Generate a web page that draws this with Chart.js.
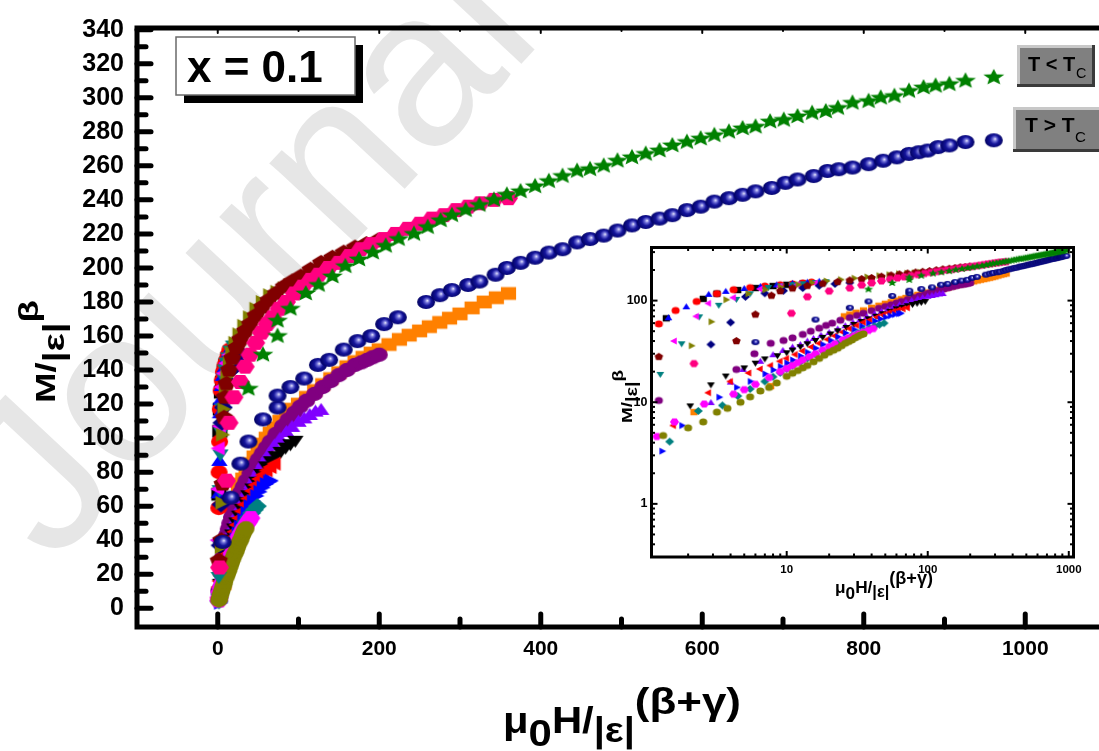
<!DOCTYPE html>
<html>
<head>
<meta charset="utf-8">
<script src="https://cdn.jsdelivr.net/npm/chart.js@4.4.1/dist/chart.umd.min.js"></script>
<style>
  html, body { margin: 0; padding: 0; background: #fff; overflow: hidden; width: 1099px; height: 751px; }
  #main { position: absolute; left: 0; top: 0; }
  #inset { position: absolute; left: 595px; top: 236px; }
</style>
</head>
<body>
<canvas id="main" width="1112" height="751"></canvas>
<canvas id="inset" width="500" height="375"></canvas>
<script>
const FONT = "'Liberation Sans', Arial, sans-serif";

// Ejes
const xTicks = [0, 200, 400, 600, 800, 1000];
const yTicks = [0, 20, 40, 60, 80, 100, 120, 140, 160, 180, 200, 220, 240, 260, 280, 300, 320, 340];
const insetXTicks = [10, 100, 1000];
const insetYTicks = [1, 10, 100];

// T < Tc  ([H/|e|^(b+g), M/|e|^b])
const belowGreen = [[38,129],[56,149],[74,160],[74,169],[90,176],[109,185],[125,190],[142,195],[158,201],[175,205],[192,209],[208,213],[224,217],[243,220],[260,224],[276,228],[290,231],[307,234],[324,237],[342,240],[358,243],[375,245],[393,248],[410,251],[427,254],[445,257],[461,258],[478,260],[495,263],[513,265],[530,267],[547,269],[563,272],[581,274],[598,276],[615,278],[633,280],[650,282],[666,283],[684,286],[701,287],[718,289],[736,291],[753,292],[768,294],[786,297],[806,298],[821,300],[838,301],[856,304],[874,306],[889,307],[906,308],[926,310],[961,312]];
const belowPink = [[2.2,24],[10.8,75],[14,109],[20,124],[28,133],[34,142],[40,149],[47,156],[54,162],[61,167],[68,171],[76,176],[85,180],[95,185],[105,189],[115,193],[125,196],[137,200],[150,203],[163,207],[177,211],[190,214],[205,217],[220,220],[235,223],[250,226],[265,229],[280,231],[295,234],[310,236],[325,238],[342,240],[360,241]];
const belowWine = [[1.24,28],[4.4,40],[6,73],[7.8,112],[9,124],[11,132],[14,140],[18,147],[23,153],[28,158],[34,163],[40,167],[47,172],[55,177],[63,181],[72,185],[82,189],[92,192],[103,195],[115,199],[128,203],[142,206],[156,209],[170,212],[184,214],[198,216]];
const belowOlive = [[2.1,36],[2.9,62],[3.7,102],[5.3,117],[7,128],[9,136],[12,144],[15,150],[19,156],[24,161],[30,166],[37,171],[45,176],[53,180],[62,184],[71,186],[80,188],[88,190]];
const belowNavy = [[2.9,37],[4,61],[5.1,109],[7,118],[9.5,125],[13,133],[17,140],[22,146],[28,150]];
const belowMagenta = [[1.6,40],[2.3,70],[2.8,94],[4.2,107],[6.5,130],[9,138],[12,144],[16,149]];
const belowTeal = [[1.27,19],[1.8,38],[2.4,70],[3.3,91],[4.4,104],[5.5,118],[7.4,136],[9,141],[11,145],[13,148],[16,152],[19,155]];
const belowBlue = [[1.45,67],[1.94,86],[2.8,114],[3.7,122],[5,130],[6.5,136],[8.5,141],[11,146],[14,150],[17,153]];
const belowRed = [[1.24,59],[1.63,80],[2.3,98],[3.2,117],[4.2,128],[5.5,134],[7,139],[9,143],[11,146],[13,149],[15,152]];
const belowBlack = [[1.4,67],[2.56,104],[3.2,117],[4.5,127],[6,133],[8,139],[10,143],[13,147]];

// T > Tc
const aboveNavy = [[6,39],[16,65],[28,85],[38,98],[56,111],[74,118],[74,125],[90,130],[107,135],[124,143],[138,146],[156,152],[173,157],[190,160],[206,167],[223,171],[258,180],[275,184],[290,187],[310,190],[324,192],[344,196],[358,200],[375,203],[393,206],[410,209],[427,211],[445,215],[461,217],[478,219],[495,222],[513,225],[530,227],[547,229],[563,231],[581,234],[598,236],[615,239],[633,241],[650,243],[666,245],[686,247],[703,250],[718,252],[738,254],[755,257],[769,258],[786,259],[806,261],[824,263],[841,265],[856,267],[868,268],[879,269],[892,271],[906,272],[926,274],[961,275]];
const aboveOrange = [[2.2,8],[7.7,14.4],[25.6,70],[28,73],[31,76],[35,80],[40,85],[45,89],[50,93],[55,96.5],[60,100],[65,103],[70,106],[77,110],[85,114],[92,117],[100,120],[110,124],[120,128],[130,131.5],[140,135],[150,138.5],[160,142],[170,145],[180,147.5],[190,150],[200,152],[212,155],[225,158],[237,160.5],[250,163],[262,165.5],[275,168],[287,170.5],[300,173],[315,176.5],[330,180],[345,182.5],[360,185]];
const abovePurple = [[1.24,10.4],[4.4,21],[5.9,30],[7.7,38],[9.5,40.5],[11,43],[13,46.5],[14.8,50],[17,53.5],[19,57],[21,60],[24,64],[28,68],[31.5,71.5],[35,75],[40,79.5],[45,84],[50,87.5],[55,91],[60,94.5],[65,98],[72,102.5],[80,107],[87,111],[95,115],[102,118.5],[110,122],[120,126],[130,130],[140,133.5],[150,137],[160,140],[170,143],[178,144.5],[185,146],[192,147.5],[200,149]];
const aboveViolet = [[2.9,9.8],[4,15.6],[4.9,20.8],[6.5,25],[8,29],[9.4,32],[11,34.5],[12.5,36.5],[14,39.5],[15.5,42],[17.5,45],[20,48],[23,52],[26,56],[29.5,60],[33,64],[37,68.5],[42,73],[47,77.5],[52,81.5],[57,85.5],[63,90],[70,95],[77,99],[85,103],[92,106],[100,109],[107,111],[114,113],[121,115],[128,116]];
const aboveBlack = [[2.07,9.3],[2.9,15],[3.7,18.3],[5,22],[6,24.5],[7,27],[8.6,29],[10,31],[11,33],[12.5,35.5],[14,38],[16,41],[18,44],[20.5,47.5],[23,51],[26.5,55],[30,59],[34,63],[38,67],[43,71],[48,75],[54,79.5],[60,84],[66,87],[72,90],[78,92.5],[84,95],[90,97],[96,99]];
const aboveRed = [[1.58,5.9],[2.8,12.4],[4,16],[5.4,19.4],[6.5,21.2],[7.7,23],[9,25.3],[10,27],[11.5,29.5],[13,32],[15,35],[17,38],[19.5,41.5],[22,45],[25,49],[28,53],[31.5,57],[35,61],[39,64.5],[44,69],[48.5,72.5],[53,76],[57.5,78.5],[62,81],[67,83],[72,85]];
const aboveBlue = [[1.3,3.3],[1.8,5.9],[3.3,11.2],[4.4,14],[5.5,16],[7,19],[8,20.8],[9,22.5],[10,24.3],[11,26],[12.5,28.5],[14,31],[16,34],[18,37],[20.5,40.5],[23,44],[26,48],[30,52],[34,56],[38,60],[42,63],[46,66],[50,68.5],[54,71],[58,73],[62,74.5],[64,75]];
const aboveTeal = [[1.48,4.1],[2.36,8.2],[3.5,9.3],[4.5,11.5],[5.5,13.5],[7,16],[8,17.8],[9,19.5],[10,21.3],[11,23],[12.5,25],[14,27],[16,29.5],[18,32],[20.5,35],[23,38],[26,41.5],[29,45],[32,48],[35,51],[38.5,53.5],[42,56],[45.5,58],[49,60]];
const aboveMagenta = [[1.2,4.6],[1.6,6.4],[2.6,9.6],[4.2,12],[5,13.3],[6,15],[7.5,17.5],[9,20],[10,21.5],[11,23],[12,24.5],[13,26],[14.5,28],[16,30],[18,32.5],[20,35],[22,37.5],[25,41],[27.5,43],[30,45],[32.5,47],[35,49],[38,51],[41,53]];
const aboveOlive = [[1.33,4.7],[2,5.6],[2.56,6.4],[3.2,8],[3.8,8.7],[4.7,10],[5.5,11.3],[6.5,12.9],[7.5,14],[8.5,15.5],[10,18],[11,19.3],[12,20.5],[13,21.8],[14,23],[15.5,25],[17,27],[18.5,29],[20,31],[21.5,32.5],[23,34],[24.5,36],[26,38],[27.5,39.5],[29,41],[30.5,43],[32,44.5],[33.5,46],[35,47]];

// series: datos, forma, color (el primero se dibuja encima)
const series = [
  [belowGreen, 'star', '#008000'],
  [aboveNavy, 'sphere', '#000080'],
  [belowPink, 'hexagon', '#ff0080'],
  [belowWine, 'pentagon', '#800000'],
  [belowOlive, 'right', '#808000'],
  [belowNavy, 'diamond', '#000080'],
  [belowMagenta, 'left', '#ff00ff'],
  [belowTeal, 'down', '#008080'],
  [belowBlue, 'up', '#0000ff'],
  [belowRed, 'circle', '#ff0000'],
  [belowBlack, 'square', '#000000'],
  [aboveOlive, 'circle', '#808000'],
  [aboveMagenta, 'hexagon', '#ff00ff'],
  [aboveTeal, 'diamond', '#008080'],
  [aboveBlue, 'right', '#0000ff'],
  [aboveRed, 'left', '#ff0000'],
  [aboveBlack, 'down', '#000000'],
  [aboveViolet, 'up', '#8000ff'],
  [abovePurple, 'circle', '#800080'],
  [aboveOrange, 'square', '#ff8000']
];

// Marcadores dibujados en un canvas
function marker(shape, color, w, h) {
  const c = document.createElement('canvas');
  c.width = Math.ceil(w) + 2;
  c.height = Math.ceil(h) + 2;
  const g = c.getContext('2d');
  const cx = c.width / 2, cy = c.height / 2, rx = w / 2, ry = h / 2;
  const poly = (n, rot) => {
    for (let i = 0; i < n; i++) {
      const a = rot + i * 2 * Math.PI / n;
      g.lineTo(cx + rx * Math.cos(a), cy + ry * Math.sin(a));
    }
    g.closePath();
  };
  g.fillStyle = color;
  g.beginPath();
  if (shape === 'circle') g.ellipse(cx, cy, rx * 0.9, ry * 0.9, 0, 0, 2 * Math.PI);
  else if (shape === 'square') g.rect(cx - rx * 0.8, cy - ry * 0.8, rx * 1.6, ry * 1.6);
  else if (shape === 'up') poly(3, -Math.PI / 2);
  else if (shape === 'down') poly(3, Math.PI / 2);
  else if (shape === 'left') poly(3, Math.PI);
  else if (shape === 'right') poly(3, 0);
  else if (shape === 'diamond') poly(4, -Math.PI / 2);
  else if (shape === 'pentagon') poly(5, -Math.PI / 2);
  else if (shape === 'hexagon') poly(6, 0);
  else if (shape === 'star') {
    for (let i = 0; i < 10; i++) {
      const a = -Math.PI / 2 + i * Math.PI / 5;
      const r = i % 2 ? 0.45 : 1;
      g.lineTo(cx + rx * r * Math.cos(a), cy + ry * r * Math.sin(a));
    }
    g.closePath();
  } else if (shape === 'sphere') {
    const gr = g.createRadialGradient(cx + rx * 0.15, cy - ry * 0.2, 0, cx, cy, rx);
    gr.addColorStop(0, '#eeeeff');
    gr.addColorStop(0.22, '#7070d8');
    gr.addColorStop(0.5, '#14149a');
    gr.addColorStop(1, '#00005e');
    g.fillStyle = gr;
    g.ellipse(cx, cy, rx, ry, 0, 0, 2 * Math.PI);
  }
  g.fill();
  return c;
}

function buildDatasets(big) {
  return series.map(([pts, shape, color]) => {
    let w = big ? 19 : 9, h = big ? 16 : 8;
    if (shape === 'star') { w = big ? 22 : 10; h = big ? 17 : 8; }
    if (shape === 'sphere') { w = big ? 18 : 8; h = big ? 14 : 6; }
    return {
      data: pts.map(([x, y]) => ({ x, y })),
      pointStyle: marker(shape, color, w, h),
      pointRadius: 5,
      showLine: false
    };
  });
}

// Texto con sub/superíndices, ajustado a un ancho
function drawRich(ctx, parts, base, width) {
  let total = 0;
  parts.forEach(p => {
    ctx.font = `bold ${base * p.s}px ${FONT}`;
    p.m = ctx.measureText(p.t).width;
    total += p.m;
  });
  ctx.save();
  ctx.scale(width / total, 1);
  ctx.fillStyle = '#000';
  ctx.textBaseline = 'alphabetic';
  ctx.textAlign = 'left';
  let x = 0;
  parts.forEach(p => {
    ctx.font = `bold ${base * p.s}px ${FONT}`;
    ctx.fillText(p.t, x, p.dy * base);
    x += p.m;
  });
  ctx.restore();
}

const yTitle = [{ t: 'M/', s: 1, dy: 0 }, { t: '|ε|', s: 1.05, dy: 0.32 }, { t: 'β', s: 1, dy: -0.6 }];
const xTitle = [{ t: 'μ', s: 1, dy: 0 }, { t: '0', s: 1, dy: 0.36 }, { t: 'H/', s: 1, dy: 0 }, { t: '|ε|', s: 0.95, dy: 0.26 }, { t: '(β+γ)', s: 1.05, dy: -0.53 }];

function legendButton(ctx, x, y, w, h, txt, size, tx, ty, cx, cy) {
  ctx.fillStyle = '#808080';
  ctx.fillRect(x, y, w, h);
  ctx.fillStyle = '#c8c8c8';
  ctx.fillRect(x, y, w, 3);
  ctx.fillRect(x, y, 3, h);
  ctx.fillStyle = '#3a3a3a';
  ctx.fillRect(x, y + h - 3, w, 3);
  ctx.fillRect(x + w - 3, y, 3, h);
  ctx.fillStyle = '#000';
  ctx.textAlign = 'left';
  ctx.textBaseline = 'alphabetic';
  ctx.font = `bold ${size}px ${FONT}`;
  ctx.fillText(txt, tx, ty);
  ctx.font = `${size * 0.72}px ${FONT}`;
  ctx.fillText('C', cx, cy);
}

const mainDecor = {
  id: 'mainDecor',
  beforeDraw(chart) {
    const ctx = chart.ctx;
    ctx.save();
    ctx.fillStyle = '#fff';
    ctx.fillRect(0, 0, chart.width, chart.height);
    // marca de agua
    ctx.translate(8, 525);
    ctx.rotate(-47 * Math.PI / 180);
    ctx.font = `220px ${FONT}`;
    ctx.fillStyle = '#e6e6e6';
    ctx.textBaseline = 'middle';
    ctx.fillText('Journal Pre-proof', 0, 0);
    ctx.restore();
  },
  afterDraw(chart) {
    const ctx = chart.ctx, a = chart.chartArea;
    const xs = chart.scales.x, ys = chart.scales.y;
    ctx.save();
    ctx.strokeStyle = '#000';
    ctx.lineWidth = 5;
    ctx.lineJoin = 'miter';
    ctx.beginPath();
    ctx.moveTo(a.right, a.top);
    ctx.lineTo(a.left, a.top);
    ctx.lineTo(a.left, a.bottom);
    ctx.lineTo(a.right, a.bottom);
    ctx.stroke();
    ctx.lineCap = 'round';
    for (let v = 0; v <= 340; v += 10) {
      const py = ys.getPixelForValue(v);
      ctx.beginPath();
      ctx.moveTo(a.left, py);
      ctx.lineTo(a.left + (v % 20 === 0 ? 14 : 9), py);
      ctx.stroke();
    }
    for (let v = 0; v <= 1000; v += 100) {
      const px = xs.getPixelForValue(v);
      ctx.beginPath();
      ctx.moveTo(px, a.bottom);
      ctx.lineTo(px, a.bottom - (v % 200 === 0 ? 13 : 8));
      ctx.stroke();
    }
    ctx.lineWidth = 2;
    for (let v = 0; v <= 1000; v += 100) {
      const px = xs.getPixelForValue(v);
      ctx.beginPath();
      ctx.moveTo(px, a.top);
      ctx.lineTo(px, a.top + (v % 200 === 0 ? 5 : 3));
      ctx.stroke();
    }
    // títulos de ejes
    ctx.save();
    ctx.translate(55, 403);
    ctx.rotate(-Math.PI / 2);
    drawRich(ctx, yTitle, 28, 103);
    ctx.restore();
    ctx.save();
    ctx.translate(503, 733);
    drawRich(ctx, xTitle, 36, 238);
    ctx.restore();
    // recuadro x = 0.1
    ctx.fillStyle = '#000';
    ctx.fillRect(184, 45, 179, 58);
    ctx.fillStyle = '#fff';
    ctx.fillRect(176, 37, 179, 58);
    ctx.strokeStyle = '#6a6a6a';
    ctx.lineWidth = 1.5;
    ctx.strokeRect(176, 37, 179, 58);
    ctx.fillStyle = '#000';
    ctx.font = `bold 44px ${FONT}`;
    ctx.textBaseline = 'alphabetic';
    ctx.fillText('x = 0.1', 187, 82);
    // botones de leyenda
    legendButton(ctx, 1017, 45, 78, 42, 'T < T', 20, 1028, 71, 1076, 78);
    legendButton(ctx, 1013, 107, 90, 45, 'T > T', 21, 1025, 132, 1075, 142);
    ctx.restore();
  }
};

new Chart(document.getElementById('main'), {
  type: 'scatter',
  data: { datasets: buildDatasets(true) },
  options: {
    responsive: false,
    animation: false,
    layout: { padding: { top: 23, right: 6, left: 0, bottom: 0 } },
    plugins: { legend: { display: false }, tooltip: { enabled: false } },
    scales: {
      x: {
        type: 'linear', min: -100, max: 1100,
        grid: { display: false, drawTicks: false }, border: { display: false },
        afterBuildTicks: s => { s.ticks = xTicks.map(v => ({ value: v })); },
        afterFit: s => { s.height = 124; },
        ticks: { color: '#000', padding: 10, maxRotation: 0, autoSkip: false, font: { family: FONT, size: 21, weight: 'bold' }, callback: v => String(v) }
      },
      y: {
        type: 'linear', min: -11, max: 341,
        grid: { display: false, drawTicks: false }, border: { display: false },
        afterBuildTicks: s => { s.ticks = yTicks.map(v => ({ value: v })); },
        afterFit: s => { s.width = 137; },
        ticks: { color: '#000', padding: 13, autoSkip: false, font: { family: FONT, size: 25, weight: 'bold' }, callback: v => String(v) }
      }
    }
  },
  plugins: [mainDecor]
});

// Recuadro log-log
const insetYTitle = [{ t: 'M/', s: 1, dy: 0 }, { t: '|ε|', s: 1.05, dy: 0.32 }, { t: 'β', s: 1, dy: -0.6 }];
const insetXTitle = [{ t: 'μ', s: 1, dy: 0 }, { t: '0', s: 1, dy: 0.36 }, { t: 'H/', s: 1, dy: 0 }, { t: '|ε|', s: 0.95, dy: 0.26 }, { t: '(β+γ)', s: 1.05, dy: -0.53 }];

const insetDecor = {
  id: 'insetDecor',
  beforeDraw(chart) {
    const a = chart.chartArea, ctx = chart.ctx;
    ctx.save();
    ctx.fillStyle = '#fff';
    ctx.fillRect(a.left, a.top, a.right - a.left, a.bottom - a.top);
    ctx.restore();
  },
  afterDraw(chart) {
    const ctx = chart.ctx, a = chart.chartArea;
    const xs = chart.scales.x, ys = chart.scales.y;
    ctx.save();
    ctx.strokeStyle = '#000';
    ctx.lineWidth = 2;
    ctx.lineCap = 'butt';
    for (let d = 1; d <= 1000; d *= 10) {
      for (let m = 1; m <= 9; m++) {
        const v = d * m;
        if (v > xs.min && v < xs.max) {
          const px = xs.getPixelForValue(v), len = m === 1 ? 6 : 3.5;
          ctx.beginPath(); ctx.moveTo(px, a.bottom); ctx.lineTo(px, a.bottom - len); ctx.stroke();
          ctx.beginPath(); ctx.moveTo(px, a.top); ctx.lineTo(px, a.top + len); ctx.stroke();
        }
      }
    }
    for (let d = 0.1; d <= 100; d *= 10) {
      for (let m = 1; m <= 9; m++) {
        const v = d * m;
        if (v > ys.min && v < ys.max) {
          const py = ys.getPixelForValue(v), len = m === 1 ? 6 : 3.5;
          ctx.beginPath(); ctx.moveTo(a.left, py); ctx.lineTo(a.left + len, py); ctx.stroke();
          ctx.beginPath(); ctx.moveTo(a.right, py); ctx.lineTo(a.right - len, py); ctx.stroke();
        }
      }
    }
    ctx.lineWidth = 3;
    ctx.strokeRect(a.left, a.top, a.right - a.left, a.bottom - a.top);
    ctx.save();
    ctx.translate(37, 187);
    ctx.rotate(-Math.PI / 2);
    drawRich(ctx, insetYTitle, 15, 53);
    ctx.restore();
    ctx.save();
    ctx.translate(240, 357);
    drawRich(ctx, insetXTitle, 17, 98);
    ctx.restore();
    ctx.restore();
  }
};

new Chart(document.getElementById('inset'), {
  type: 'scatter',
  data: { datasets: buildDatasets(false) },
  options: {
    responsive: false,
    animation: false,
    layout: { padding: { top: 9, right: 21.5, left: 0, bottom: 0 } },
    plugins: { legend: { display: false }, tooltip: { enabled: false } },
    scales: {
      x: {
        type: 'logarithmic', min: 1.1, max: 1080,
        grid: { display: false, drawTicks: false }, border: { display: false },
        afterBuildTicks: s => { s.ticks = insetXTicks.map(v => ({ value: v })); },
        afterFit: s => { s.height = 54; },
        ticks: { color: '#000', padding: 6, maxRotation: 0, autoSkip: false, font: { family: FONT, size: 11.5, weight: 'bold' }, callback: v => String(v) }
      },
      y: {
        type: 'logarithmic', min: 0.333, max: 333,
        grid: { display: false, drawTicks: false }, border: { display: false },
        afterBuildTicks: s => { s.ticks = insetYTicks.map(v => ({ value: v })); },
        afterFit: s => { s.width = 56.5; },
        ticks: { color: '#000', padding: 4, autoSkip: false, font: { family: FONT, size: 12.5, weight: 'bold' }, callback: v => String(v) }
      }
    }
  },
  plugins: [insetDecor]
});
</script>
</body>
</html>
